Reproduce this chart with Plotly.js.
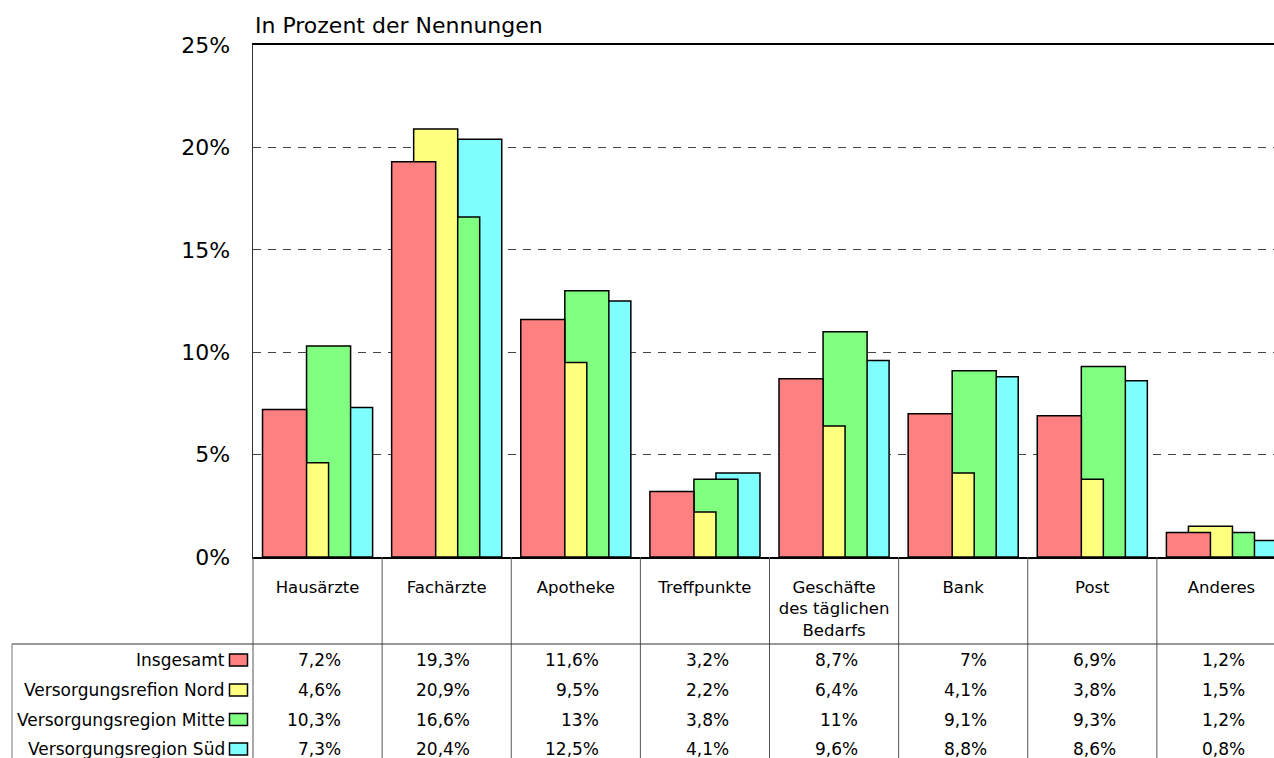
<!DOCTYPE html>
<html>
<head>
<meta charset="utf-8">
<script src="https://cdn.plot.ly/plotly-3.0.1.min.js"></script>
<style>
html, body { margin: 0; padding: 0; overflow: hidden; background: #fff; }
#chart { width: 1274px; height: 758px; }
</style>
</head>
<body>
<div id="chart"></div>
<script>
// ---- data ----
const categories = ['Hausärzte', 'Fachärzte', 'Apotheke', 'Treffpunkte', 'Geschäfte des täglichen Bedarfs', 'Bank', 'Post', 'Anderes'];
const categoryLabels = ['Hausärzte', 'Fachärzte', 'Apotheke', 'Treffpunkte', 'Geschäfte<br>des täglichen<br>Bedarfs', 'Bank', 'Post', 'Anderes'];
const seriesNames = ['Insgesamt', 'Versorgungsrefion Nord', 'Versorgungsregion Mitte', 'Versorgungsregion Süd'];
const insgesamt = [7.2, 19.3, 11.6, 3.2, 8.7, 7, 6.9, 1.2];
const nord      = [4.6, 20.9, 9.5, 2.2, 6.4, 4.1, 3.8, 1.5];
const mitte     = [10.3, 16.6, 13, 3.8, 11, 9.1, 9.3, 1.2];
const sued      = [7.3, 20.4, 12.5, 4.1, 9.6, 8.8, 8.6, 0.8];
const yTicks = [0, 5, 10, 15, 20, 25];
const yTickLabels = ['0%', '5%', '10%', '15%', '20%', '25%'];

// ---- styling ----
const colors = ['#FF8080', '#FFFF80', '#80FF80', '#80FFFF'];
const FONT = 'DejaVu Sans, sans-serif';
const seriesValues = [insgesamt, nord, mitte, sued];

const unit = 0.1705;              // half bar width in category units
const barWidth = 2 * unit;
const offsets = [-2.5 * unit, -1.5 * unit, -0.5 * unit, 0.5 * unit];

// plot geometry (pixels)
const W = 1274, H = 758;
const mL = 253, mR = 0, mT = 45, mB = 201;
const plotW = W - mL - mR, plotH = H - mT - mB;
const py = Y => (H - mB - Y) / plotH;      // pixel y -> paper y
const px = X => (X - mL) / plotW;          // pixel x -> paper x

// traces: drawn bottom to top -> Süd, Mitte, Nord, Insgesamt
const traces = [];
for (let s = 3; s >= 0; s--) {
  traces.push({
    type: 'bar',
    name: seriesNames[s],
    x: categories,
    y: seriesValues[s],
    width: categories.map(() => barWidth),
    offset: categories.map(() => offsets[s]),
    marker: { color: colors[s], line: { color: '#000', width: 1.5 } },
    hoverinfo: 'skip',
    showlegend: false
  });
}

const fmt = v => String(v).replace('.', ',') + '%';

const shapes = [];
const annotations = [];
const tableBottom = py(H);
// column separators
shapes.push({ type: 'line', xref: 'paper', yref: 'paper', x0: 0, x1: 0, y0: 0, y1: tableBottom,
  line: { color: '#555', width: 1 } });
for (let i = 0; i < categories.length - 1; i++) {
  shapes.push({ type: 'line', xref: 'x', yref: 'paper', x0: i + 0.5, x1: i + 0.5, y0: 0, y1: tableBottom,
    line: { color: '#555', width: 1 } });
}
// table horizontal and left border
shapes.push({ type: 'line', xref: 'paper', yref: 'paper', x0: px(12), x1: 1, y0: py(644), y1: py(644),
  line: { color: '#333', width: 1 } });
shapes.push({ type: 'line', xref: 'paper', yref: 'paper', x0: px(12), x1: px(12), y0: py(644), y1: tableBottom,
  line: { color: '#777', width: 1 } });

const rowY = [660, 690, 719.5, 749];
for (let s = 0; s < 4; s++) {
  annotations.push({
    xref: 'paper', yref: 'paper', x: px(227), y: py(rowY[s]), xanchor: 'right', yanchor: 'middle',
    text: seriesNames[s], showarrow: false, font: { family: FONT, size: 17, color: '#000' }
  });
  shapes.push({ type: 'rect', xref: 'paper', yref: 'paper', x0: px(229.5), x1: px(247.5),
    y0: py(rowY[s] - 6), y1: py(rowY[s] + 6),
    fillcolor: colors[s], line: { color: '#000', width: 1.5 } });
  for (let i = 0; i < categories.length; i++) {
    annotations.push({
      xref: 'x', yref: 'paper', x: i + 0.198, y: py(rowY[s]), xanchor: 'right', yanchor: 'middle',
      text: fmt(seriesValues[s][i]), showarrow: false, font: { family: FONT, size: 17, color: '#000' }
    });
  }
}

const layout = {
  width: W, height: H,
  margin: { l: mL, r: mR, t: mT, b: mB, pad: 0 },
  paper_bgcolor: '#fff', plot_bgcolor: '#fff',
  barmode: 'overlay',
  showlegend: false,
  font: { family: FONT, color: '#000' },
  title: {
    text: 'In Prozent der Nennungen',
    xref: 'container', yref: 'container',
    x: 255 / W, xanchor: 'left', y: 1 - 25 / H, yanchor: 'middle',
    font: { family: FONT, size: 22, color: '#000' }
  },
  xaxis: {
    type: 'category',
    range: [-0.5, 7.5 - 12 / 129.1],
    tickvals: categories, ticktext: categoryLabels,
    tickfont: { family: FONT, size: 16.5, color: '#000' },
    ticks: '', ticklabelstandoff: 14,
    showgrid: false, zeroline: false,
    showline: true, linecolor: '#000', linewidth: 2, mirror: true,
    fixedrange: true
  },
  yaxis: {
    range: [0, 25],
    tickmode: 'array', tickvals: yTicks, ticktext: yTickLabels,
    tickfont: { family: FONT, size: 22, color: '#000' },
    ticks: '', ticklabelstandoff: 17,
    showgrid: true, gridcolor: '#444', gridwidth: 1, griddash: '8px,7px',
    zeroline: false,
    showline: true, linecolor: '#333', linewidth: 1.5,
    fixedrange: true
  },
  shapes: shapes,
  annotations: annotations
};

Plotly.newPlot('chart', traces, layout, { displayModeBar: false, staticPlot: true });
</script>
</body>
</html>
